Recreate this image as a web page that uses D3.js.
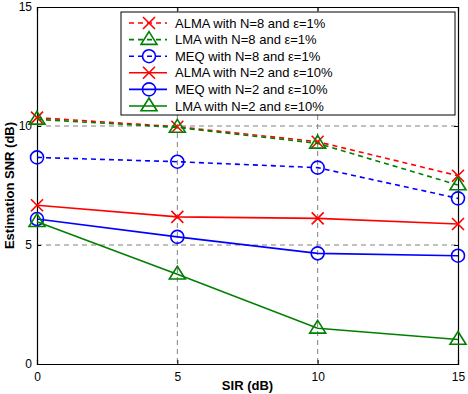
<!DOCTYPE html>
<html>
<head>
<meta charset="utf-8">
<script src="https://cdn.jsdelivr.net/npm/d3@7"></script>
<style>
  body { margin: 0; background: #fff; }
  svg { display: block; font-family: "Liberation Sans", Arial, sans-serif; }
</style>
</head>
<body>
<svg id="chart" width="468" height="394"></svg>
<script>
// data
const sir = [0, 5, 10, 15];
const almaN8 = [10.35, 9.97, 9.34, 7.91];
const lmaN8 = [10.28, 9.94, 9.27, 7.52];
const meqN8 = [8.68, 8.5, 8.25, 6.96];
const almaN2 = [6.67, 6.18, 6.12, 5.88];
const meqN2 = [6.09, 5.34, 4.65, 4.55];
const lmaN2 = [5.98, 3.77, 1.5, 1.03];
const xTicks = [0, 5, 10, 15];
const yTicks = [0, 5, 10, 15];

const series = [
  { name: "ALMA with N=8 and \u03b5=1%", values: almaN8, color: "#ff0000", dash: "5,4", marker: "x" },
  { name: "LMA with N=8 and \u03b5=1%", values: lmaN8, color: "#008000", dash: "5,4", marker: "tri" },
  { name: "MEQ with N=8 and \u03b5=1%", values: meqN8, color: "#0000ff", dash: "5,4", marker: "circ" },
  { name: "ALMA with N=2 and \u03b5=10%", values: almaN2, color: "#ff0000", dash: null, marker: "x" },
  { name: "MEQ with N=2 and \u03b5=10%", values: meqN2, color: "#0000ff", dash: null, marker: "circ" },
  { name: "LMA with N=2 and \u03b5=10%", values: lmaN2, color: "#008000", dash: null, marker: "tri" },
];

const svg = d3.select("#chart");
const m = { left: 37, right: 458, top: 7, bottom: 364 };

const x = d3.scaleLinear().domain([0, 15]).range([m.left, m.right]);
const y = d3.scaleLinear().domain([0, 15]).range([m.bottom, m.top]);

// grid
const grid = svg.append("g").attr("stroke", "#808080").attr("stroke-width", 1)
  .attr("stroke-dasharray", "5,4");
grid.selectAll("vg").data(xTicks.slice(1, -1)).join("line")
  .attr("x1", d => x(d)).attr("x2", d => x(d))
  .attr("y1", m.top).attr("y2", m.bottom);
grid.selectAll("hg").data(yTicks.slice(1, -1)).join("line")
  .attr("x1", m.left).attr("x2", m.right)
  .attr("y1", d => y(d)).attr("y2", d => y(d));

// axes
const xAxis = svg.append("g").attr("transform", `translate(0,${m.bottom})`)
  .call(d3.axisBottom(x).tickValues(xTicks).tickSize(-4).tickPadding(8));
const yAxis = svg.append("g").attr("transform", `translate(${m.left},0)`)
  .call(d3.axisLeft(y).tickValues(yTicks).tickSize(-4).tickPadding(5));
const xAxisTop = svg.append("g").attr("transform", `translate(0,${m.top})`)
  .call(d3.axisTop(x).tickValues(xTicks).tickSize(-4).tickFormat(""));
const yAxisRight = svg.append("g").attr("transform", `translate(${m.right},0)`)
  .call(d3.axisRight(y).tickValues(yTicks).tickSize(-4).tickFormat(""));
[xAxis, yAxis, xAxisTop, yAxisRight].forEach(a => {
  a.select(".domain").attr("stroke", "#000").attr("stroke-width", 1.2);
  a.selectAll(".tick line").attr("stroke", "#000");
  a.selectAll("text").attr("font-size", 12).attr("fill", "#000")
    .attr("font-family", "Liberation Sans, Arial, sans-serif");
});

// lines + markers
const line = d3.line().x((d, i) => x(sir[i])).y(d => y(d));

function drawMarker(g, type, color, cx, cy) {
  if (type === "x") {
    const s = 6;
    g.append("path")
      .attr("d", `M${cx - s},${cy - s}L${cx + s},${cy + s}M${cx - s},${cy + s}L${cx + s},${cy - s}`)
      .attr("stroke", color).attr("stroke-width", 1.6).attr("fill", "none");
  } else if (type === "circ") {
    g.append("circle").attr("cx", cx).attr("cy", cy).attr("r", 6.5)
      .attr("stroke", color).attr("stroke-width", 1.6).attr("fill", "none");
  } else {
    const s = 8;
    g.append("path")
      .attr("d", `M${cx},${cy - s}L${cx + s},${cy + s * 0.6}L${cx - s},${cy + s * 0.6}Z`)
      .attr("stroke", color).attr("stroke-width", 1.6).attr("fill", "none");
  }
}

series.forEach(s => {
  const g = svg.append("g");
  g.append("path").datum(s.values).attr("d", line)
    .attr("fill", "none").attr("stroke", s.color).attr("stroke-width", 1.6)
    .attr("stroke-dasharray", s.dash);
  s.values.forEach((v, i) => drawMarker(g, s.marker, s.color, x(sir[i]), y(v)));
});

// legend
const leg = svg.append("g");
leg.append("rect").attr("x", 121).attr("y", 12).attr("width", 334).attr("height", 103)
  .attr("fill", "#fff").attr("stroke", "#000").attr("stroke-width", 1);
series.forEach((s, i) => {
  const ly = 23 + i * 16.6;
  leg.append("line").attr("x1", 129).attr("x2", 167).attr("y1", ly).attr("y2", ly)
    .attr("stroke", s.color).attr("stroke-width", 1.6).attr("stroke-dasharray", s.dash);
  drawMarker(leg, s.marker, s.color, 149, ly);
  leg.append("text").attr("x", 175).attr("y", ly + 4.5).attr("font-size", 13)
    .attr("fill", "#000").text(s.name);
});

// axis labels
svg.append("text").attr("x", (m.left + m.right) / 2).attr("y", 390)
  .attr("text-anchor", "middle").attr("font-size", 13).attr("font-weight", "bold")
  .text("SIR (dB)");
svg.append("text").attr("transform", `translate(14,${(m.top + m.bottom) / 2}) rotate(-90)`)
  .attr("text-anchor", "middle").attr("font-size", 13).attr("font-weight", "bold")
  .text("Estimation SNR (dB)");
</script>
</body>
</html>
